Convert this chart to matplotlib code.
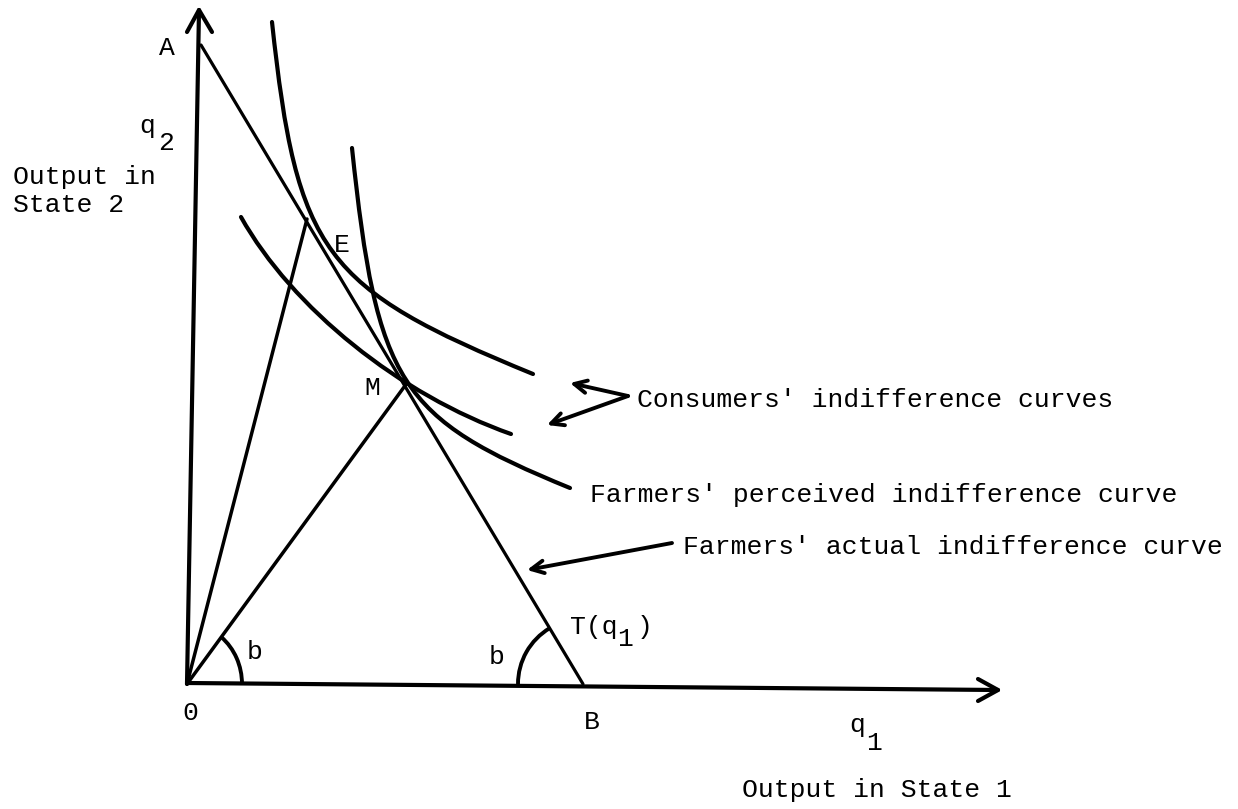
import matplotlib
matplotlib.use("Agg")
import matplotlib.pyplot as plt
from matplotlib.path import Path
from matplotlib.patches import PathPatch, Arc

# ---- diagram data (image coordinates: x to the right, y downward) ----
origin = (187, 684)
y_axis_tip = (199, 10)
x_axis_tip = (998, 690)
point_A = (201, 45)
point_B = (583, 684)
point_E = (307, 219)
point_M = (407, 383)

# Bezier control points of the indifference curves
consumer_upper = [(272, 22), (297, 253), (323, 288), (533, 374)]
consumer_lower = [(241, 217), (292, 308), (400, 395), (511, 434)]
farmer_perceived = [(352, 148), (377, 384), (399, 418), (570, 488)]

angle_b = 53.8          # angle of ray OM (degrees)
angle_AB = 59.1         # angle of line AB with the q1 axis (degrees)

labels_main = ["Consumers' indifference curves",
               "Farmers' perceived indifference curve",
               "Farmers' actual indifference curve"]

FONT = "Liberation Mono"
FS = 19

fig = plt.figure(figsize=(12.38, 8.09), dpi=100)
ax = fig.add_axes([0, 0, 1, 1])
ax.set_xlim(0, 1238)
ax.set_ylim(809, 0)
ax.axis("off")

k = dict(color="black", solid_capstyle="round")

# axes
ax.plot([origin[0], y_axis_tip[0]], [origin[1], y_axis_tip[1]], lw=3, **k)
ax.plot([y_axis_tip[0] - 12, y_axis_tip[0], y_axis_tip[0] + 13],
        [y_axis_tip[1] + 22, y_axis_tip[1], y_axis_tip[1] + 22], lw=3, **k)
ax.plot([origin[0], x_axis_tip[0]], [origin[1] - 1, x_axis_tip[1]], lw=3, **k)
ax.plot([x_axis_tip[0] - 20, x_axis_tip[0], x_axis_tip[0] - 20],
        [x_axis_tip[1] - 11, x_axis_tip[1], x_axis_tip[1] + 11], lw=3, **k)

# budget line AB and rays
ax.plot([point_A[0], point_B[0]], [point_A[1], point_B[1]], lw=2.3, **k)
ax.plot([origin[0], point_E[0]], [origin[1], point_E[1]], lw=2.5, **k)
ax.plot([origin[0], point_M[0]], [origin[1], point_M[1]], lw=2.5, **k)

# curves
codes = [Path.MOVETO, Path.CURVE4, Path.CURVE4, Path.CURVE4]
for pts in (consumer_upper, consumer_lower, farmer_perceived):
    ax.add_patch(PathPatch(Path(pts, codes), fill=False, lw=3, color="black",
                           capstyle="round"))

# angle arcs (y axis is inverted, so angles are negative-going)
ax.add_patch(Arc(origin, 110, 120, theta1=-angle_b, theta2=0, lw=2.8,
                 color="black"))
ax.add_patch(Arc(point_B, 130, 130, theta1=180, theta2=180 + angle_AB, lw=2.8,
                 color="black"))

# arrows
ap = dict(arrowstyle="->,head_length=0.9,head_width=0.45", lw=2.8,
          color="black", shrinkA=0, shrinkB=0)
ax.annotate("", xy=(570, 383), xytext=(628, 396), arrowprops=ap)
ax.annotate("", xy=(547, 425), xytext=(628, 396), arrowprops=ap)
ax.annotate("", xy=(527, 570), xytext=(672, 543), arrowprops=ap)

t = dict(family=FONT, fontsize=FS, color="black", va="center")
ax.text(167, 48, "A", ha="center", **t)
ax.text(147, 126, "q", ha="center", **t)
ax.text(166, 143, "2", ha="center", **t)
ax.text(13, 177, "Output in", ha="left", **t)
ax.text(13, 205, "State 2", ha="left", **t)
ax.text(342, 245, "E", ha="center", **t)
ax.text(372, 388, "M", ha="center", **t)
ax.text(637, 400, labels_main[0], ha="left", **t)
ax.text(590, 495, labels_main[1], ha="left", **t)
ax.text(683, 547, labels_main[2], ha="left", **t)
ax.text(570, 627, "T(q", ha="left", **t)
ax.text(625, 639, "1", ha="center", **t)
ax.text(637, 627, ")", ha="left", **t)
ax.text(255, 652, "b", ha="center", **t)
ax.text(497, 657, "b", ha="center", **t)
ax.text(190, 713, "0", ha="center", **t)
ax.text(592, 722, "B", ha="center", **t)
ax.text(857, 725, "q", ha="center", **t)
ax.text(874, 743, "1", ha="center", **t)
ax.text(742, 790, "Output in State 1", ha="left", **t)

fig.savefig("out.png", dpi=100, facecolor="white")
